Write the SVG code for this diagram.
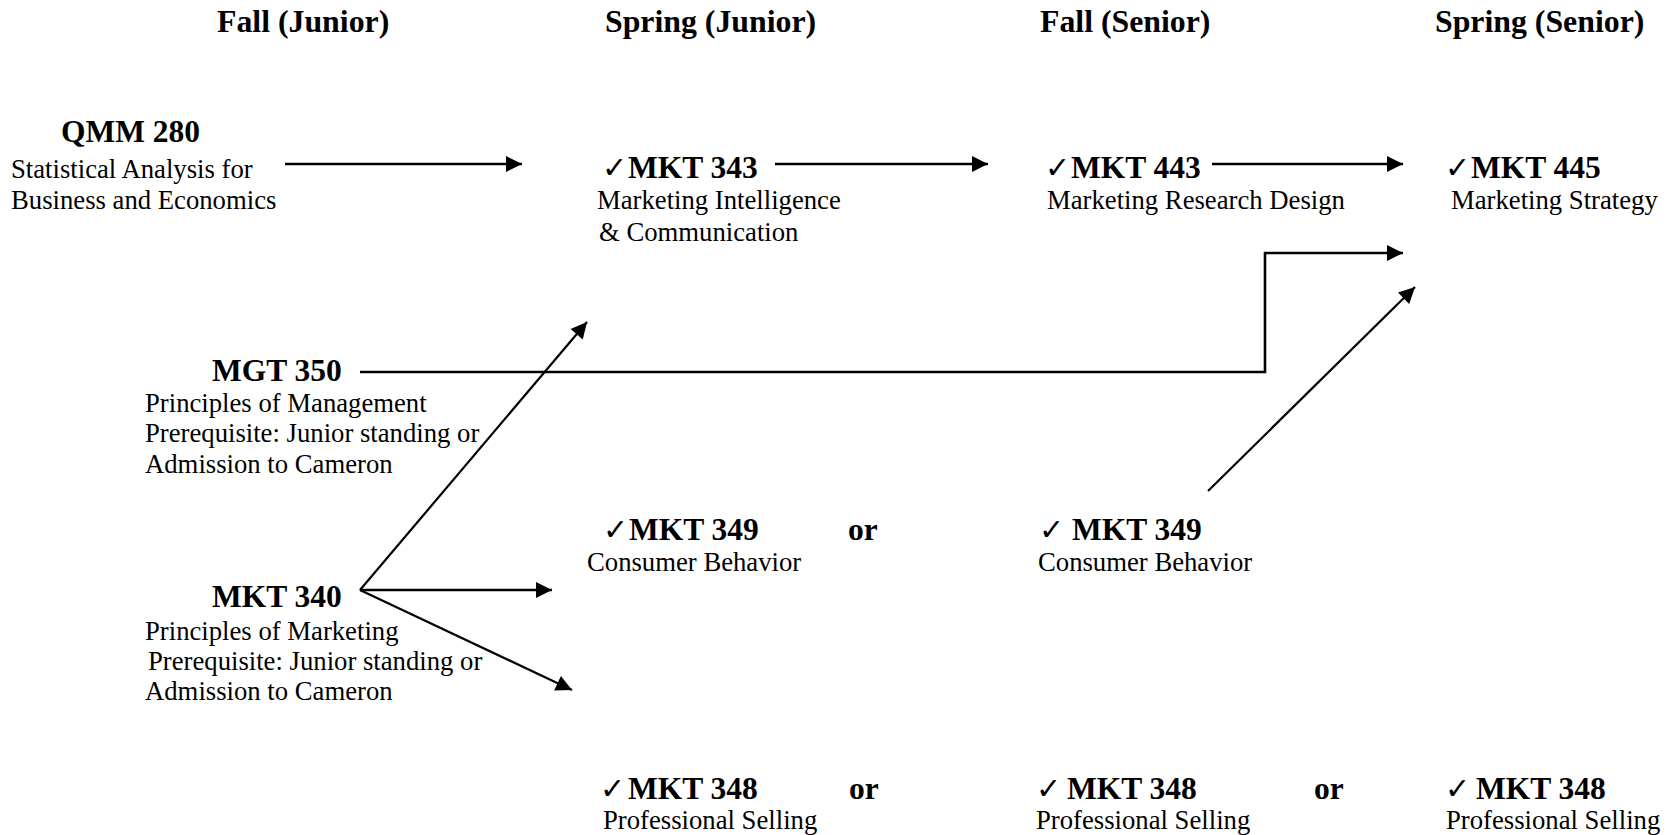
<svg xmlns="http://www.w3.org/2000/svg" width="1671" height="835" viewBox="0 0 1671 835">
<style>
.h{font-family:"Liberation Serif","Times New Roman",serif;font-weight:bold;font-size:31.8px;fill:#000}
.b{font-family:"Liberation Serif","Times New Roman",serif;font-weight:bold;font-size:31.5px;fill:#000}
.r{font-family:"Liberation Serif","Times New Roman",serif;font-size:26.7px;fill:#000}
.ck{font-family:"DejaVu Sans",sans-serif;font-weight:bold;font-size:30px}
.ln{fill:none;stroke:#000;stroke-width:2.6;marker-end:url(#ah)}
.dg{fill:none;stroke:#000;stroke-width:2.2;marker-end:url(#ah)}
</style>
<defs>
<marker id="ah" markerUnits="userSpaceOnUse" markerWidth="17" markerHeight="17" refX="16" refY="8" orient="auto" overflow="visible">
<path d="M0,0 L16,8 L0,16 z" fill="#000"/>
</marker>
</defs>
<rect width="1671" height="835" fill="#fff"/>
<g id="headers">
<text class="h" x="217" y="32">Fall (Junior)</text>
<text class="h" x="605" y="32">Spring (Junior)</text>
<text class="h" x="1040" y="32">Fall (Senior)</text>
<text class="h" x="1435" y="32">Spring (Senior)</text>
</g>
<g id="connectors">
<line class="ln" x1="285" y1="164" x2="522" y2="164"/>
<line class="ln" x1="775" y1="164" x2="988" y2="164"/>
<line class="ln" x1="1212" y1="164" x2="1403" y2="164"/>
<polyline class="ln" points="360,372 1265,372 1265,253 1403,253"/>
<line class="dg" x1="1208" y1="491" x2="1415" y2="287"/>
<line class="dg" x1="360" y1="590" x2="587" y2="322"/>
<line class="ln" x1="360" y1="590" x2="552" y2="590"/>
<line class="dg" x1="360" y1="590" x2="572" y2="690"/>
</g>
<g id="qmm280">
<text class="b" x="61" y="142">QMM 280</text>
<text class="r" x="11" y="178">Statistical Analysis for</text>
<text class="r" x="11" y="209">Business and Economics</text>
</g>
<g id="mkt343">
<text class="b"><tspan class="ck" x="602" y="178">✓</tspan><tspan x="628" y="178">MKT 343</tspan></text>
<text class="r" x="597" y="209">Marketing Intelligence</text>
<text class="r" x="599" y="241">&amp; Communication</text>
</g>
<g id="mkt443">
<text class="b"><tspan class="ck" x="1045" y="178">✓</tspan><tspan x="1071" y="178">MKT 443</tspan></text>
<text class="r" x="1047" y="209">Marketing Research Design</text>
</g>
<g id="mkt445">
<text class="b"><tspan class="ck" x="1445" y="178">✓</tspan><tspan x="1471" y="178">MKT 445</tspan></text>
<text class="r" x="1451" y="209">Marketing Strategy</text>
</g>
<g id="mgt350">
<text class="b" x="212" y="381">MGT 350</text>
<text class="r" x="145" y="412">Principles of Management</text>
<text class="r" x="145" y="442">Prerequisite: Junior standing or</text>
<text class="r" x="145" y="473">Admission to Cameron</text>
</g>
<g id="mkt349a">
<text class="b"><tspan class="ck" x="603" y="540">✓</tspan><tspan x="629" y="540">MKT 349</tspan></text>
<text class="r" x="587" y="571">Consumer Behavior</text>
</g>
<g id="or1"><text class="b" x="848" y="540">or</text></g>
<g id="mkt349b">
<text class="b"><tspan class="ck" x="1039" y="540">✓</tspan><tspan x="1072" y="540">MKT 349</tspan></text>
<text class="r" x="1038" y="571">Consumer Behavior</text>
</g>
<g id="mkt340">
<text class="b" x="212" y="607">MKT 340</text>
<text class="r" x="145" y="640">Principles of Marketing</text>
<text class="r" x="148" y="670">Prerequisite: Junior standing or</text>
<text class="r" x="145" y="700">Admission to Cameron</text>
</g>
<g id="mkt348a">
<text class="b"><tspan class="ck" x="600" y="799">✓</tspan><tspan x="628" y="799">MKT 348</tspan></text>
<text class="r" x="603" y="829">Professional Selling</text>
</g>
<g id="or2"><text class="b" x="849" y="799">or</text></g>
<g id="mkt348b">
<text class="b"><tspan class="ck" x="1036" y="799">✓</tspan><tspan x="1067" y="799">MKT 348</tspan></text>
<text class="r" x="1036" y="829">Professional Selling</text>
</g>
<g id="or3"><text class="b" x="1314" y="799">or</text></g>
<g id="mkt348c">
<text class="b"><tspan class="ck" x="1445" y="799">✓</tspan><tspan x="1476" y="799">MKT 348</tspan></text>
<text class="r" x="1446" y="829">Professional Selling</text>
</g>
</svg>
